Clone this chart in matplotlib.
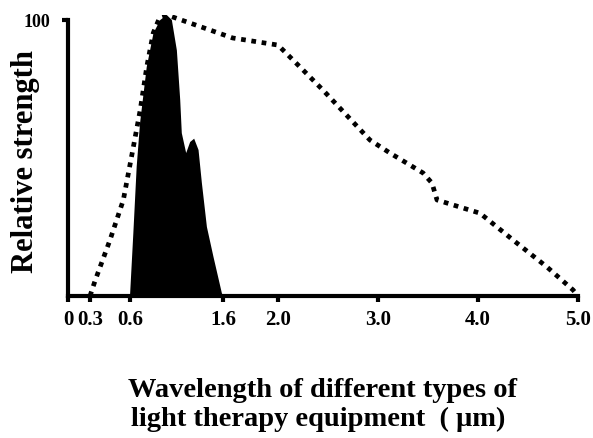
import numpy as np
import matplotlib
matplotlib.use("Agg")
import matplotlib.pyplot as plt

# ============================================================
# data
# ============================================================
tick_um = [0, 0.3, 0.6, 1.6, 2.0, 3.0, 4.0, 5.0]
tick_labels = ["0", "0.3", "0.6", "1.6", "2.0", "3.0", "4.0", "5.0"]

# dotted curve: broad-band equipment
broad_x = [0.3, 0.34, 0.45, 0.55, 0.63, 0.71, 0.78, 0.85, 0.92, 1.0,
           1.67, 1.99, 2.02, 2.25, 2.45, 2.92, 3.12, 3.45, 3.54, 3.59,
           3.75, 4.02, 4.35, 4.69, 4.95, 5.0]
broad_y = [0, 5.8, 20.3, 34.8, 52.9, 67.4, 83.0, 95.3, 101.0, 101.8,
           93.5, 91.0, 90.2, 81.9, 74.6, 56.5, 51.8, 44.6, 40.9, 34.8,
           33.0, 30.0, 20.3, 10.5, 2.2, 0]

# filled curve: narrow-band equipment
narrow_x = [0.6, 0.636, 0.672, 0.708, 0.78, 0.853, 0.925, 0.996, 1.05,
            1.104, 1.14, 1.157, 1.204, 1.247, 1.29, 1.337, 1.373, 1.427,
            1.498, 1.588, 1.6]
narrow_y = [0, 22.8, 46.9, 62.6, 83.0, 95.3, 100.0, 101.8, 100.0,
            89.0, 71.0, 59.0, 51.8, 55.8, 57.0, 52.9, 40.9, 25.0,
            14.1, 1.0, 0]

# ============================================================
# non-uniform wavelength axis (piecewise linear between ticks)
# ============================================================
axis_pos = [0, 22, 62, 155, 210, 310, 410, 510]


def fwd(x):
    return np.interp(x, tick_um, axis_pos)


def inv(p):
    return np.interp(p, axis_pos, tick_um)


plt.rcParams["font.family"] = ["Liberation Serif", "DejaVu Serif"]
plt.rcParams["font.weight"] = "bold"

fig = plt.figure(figsize=(5.93, 4.38), dpi=100)
ax = fig.add_axes([68 / 593, 142 / 438, 510 / 593, 281.5 / 438])
ax.set_xscale("function", functions=(fwd, inv))

ax.fill(narrow_x, narrow_y, color="black", lw=0, zorder=2)
ax.plot(broad_x, broad_y, color="black", lw=3.4,
        linestyle=(0, (1.0, 1.2)), dash_capstyle="butt", zorder=3)

ax.set_xlim(0, 5)
ax.set_ylim(0, 102)

for side in ["top", "right"]:
    ax.spines[side].set_visible(False)
ax.spines["left"].set_bounds(0, 100)
ax.spines["left"].set_linewidth(3)
ax.spines["bottom"].set_linewidth(3)

ax.set_xticks(tick_um)
ax.set_xticklabels(tick_labels)
ax.set_yticks([100])
ax.set_yticklabels(["100"])
ax.tick_params(axis="x", direction="out", length=4, width=3, pad=6,
               labelsize=15)
ax.tick_params(axis="y", direction="out", length=4, width=3, pad=9,
               labelsize=13)
for lab in ax.get_xticklabels() + ax.get_yticklabels():
    lab.set_fontweight("bold")

fig.text(26 / 593, 1 - 162 / 438, "Relative strength", rotation=90,
         ha="center", va="center", fontsize=22, fontweight="bold")
fig.text(322 / 593, 1 - 397 / 438, "Wavelength of different types of",
         ha="center", va="baseline", fontsize=20.5, fontweight="bold")
fig.text(318 / 593, 1 - 426 / 438, "light therapy equipment  ( \u03bcm)",
         ha="center", va="baseline", fontsize=20.5, fontweight="bold")

fig.savefig("out.png", dpi=100)
